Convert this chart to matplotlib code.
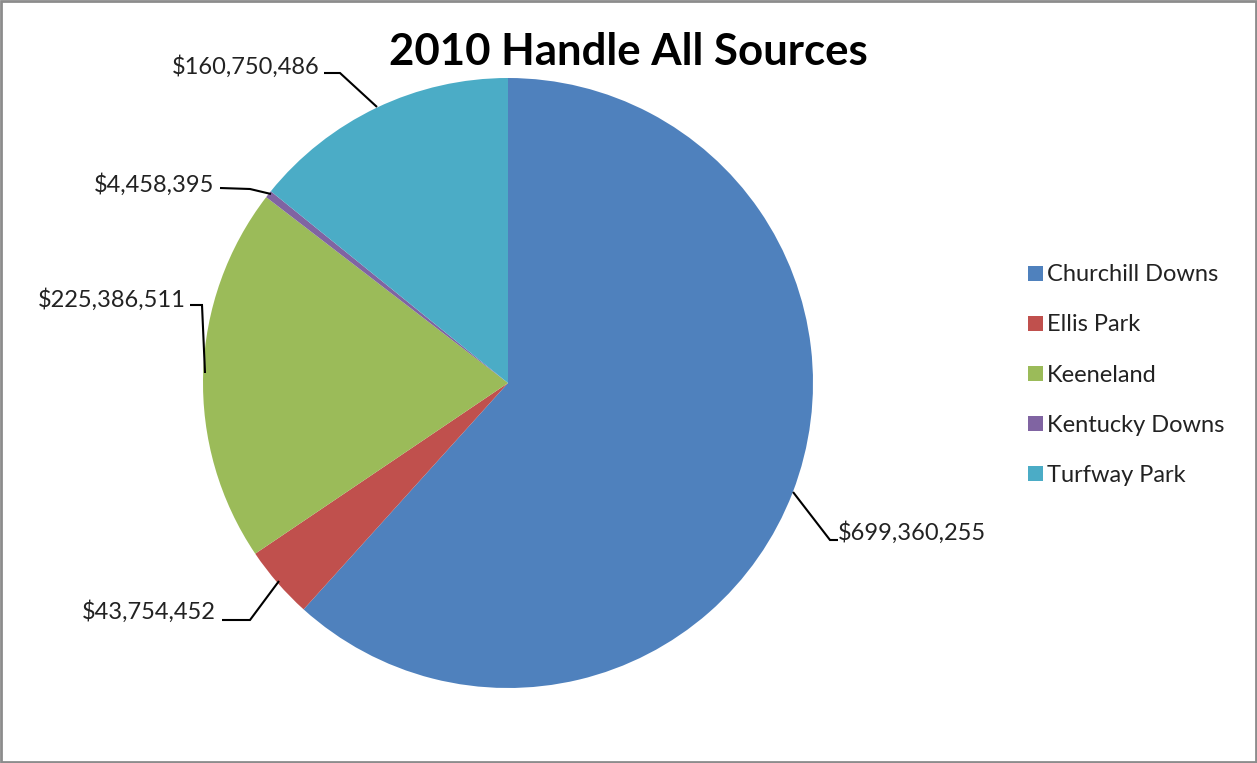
import matplotlib
matplotlib.use("Agg")
import matplotlib.pyplot as plt
from matplotlib.patches import Rectangle
import numpy as np

# Data
tracks = ["Churchill Downs", "Ellis Park", "Keeneland", "Kentucky Downs", "Turfway Park"]
handle = [699360255, 43754452, 225386511, 4458395, 160750486]
colors = ["#4F81BD", "#C0504D", "#9BBB59", "#8064A2", "#4BACC6"]

W, H = 1257, 763
fig = plt.figure(figsize=(W / 100, H / 100), dpi=100)
plt.rcParams['font.family'] = ['Lato', 'DejaVu Sans']

cx, cy, r = 508, 383, 305
ax = fig.add_axes([(cx - r) / W, (H - cy - r) / H, 2 * r / W, 2 * r / H])
wedges, _ = ax.pie(handle, colors=colors, startangle=90, counterclock=False,
                   radius=1, wedgeprops=dict(linewidth=0))
ax.set_xlim(-1, 1)
ax.set_ylim(-1, 1)
ax.set_aspect('equal')
ax.axis('off')

def d(px, py):
    return ((px - cx) / r, (cy - py) / r)

# label layout: leader line path (pixel points) and text anchor
layouts = [
    dict(path=[(793, 492), (830, 540), (838, 540)], text=(838, 533), ha='left'),
    dict(path=[(279, 581), (250, 620), (222, 620)], text=(216, 612), ha='right'),
    dict(path=[(205, 373), (202, 305), (190, 305)], text=(186, 300), ha='right'),
    dict(path=[(271, 194), (250, 189), (220, 188)], text=(214, 185), ha='right'),
    dict(path=[(377, 107), (340, 73), (324, 73)], text=(320, 67), ha='right'),
]
for val, lay in zip(handle, layouts):
    pts = np.array([d(*p) for p in lay['path']])
    ax.plot(pts[:, 0], pts[:, 1], color='black', lw=1.5, clip_on=False,
            solid_capstyle='butt', solid_joinstyle='miter')
    tx, ty = d(*lay['text'])
    ax.text(tx, ty, "${:,}".format(val), ha=lay['ha'], va='center',
            fontsize=17, color='#222222', clip_on=False)

fig.text(628 / W, 1 - 52 / H, "2010 Handle All Sources", ha='center', va='center',
         fontsize=31.5, fontweight='bold', color='black')

leg = fig.legend(wedges, tracks, loc='upper left',
                 bbox_to_anchor=(1019 / W, 1 - 255 / H), frameon=False,
                 fontsize=17, handlelength=0.6, handleheight=0.6,
                 handletextpad=0.18, labelspacing=1.23, borderaxespad=0)
for t in leg.get_texts():
    t.set_color('#222222')

fig.patches.append(Rectangle((0.0008, 0.0013), 0.9984, 0.9974, transform=fig.transFigure,
                             fill=False, edgecolor='#8c8c8c', linewidth=2))

fig.savefig("out.png", dpi=100, facecolor='white')
